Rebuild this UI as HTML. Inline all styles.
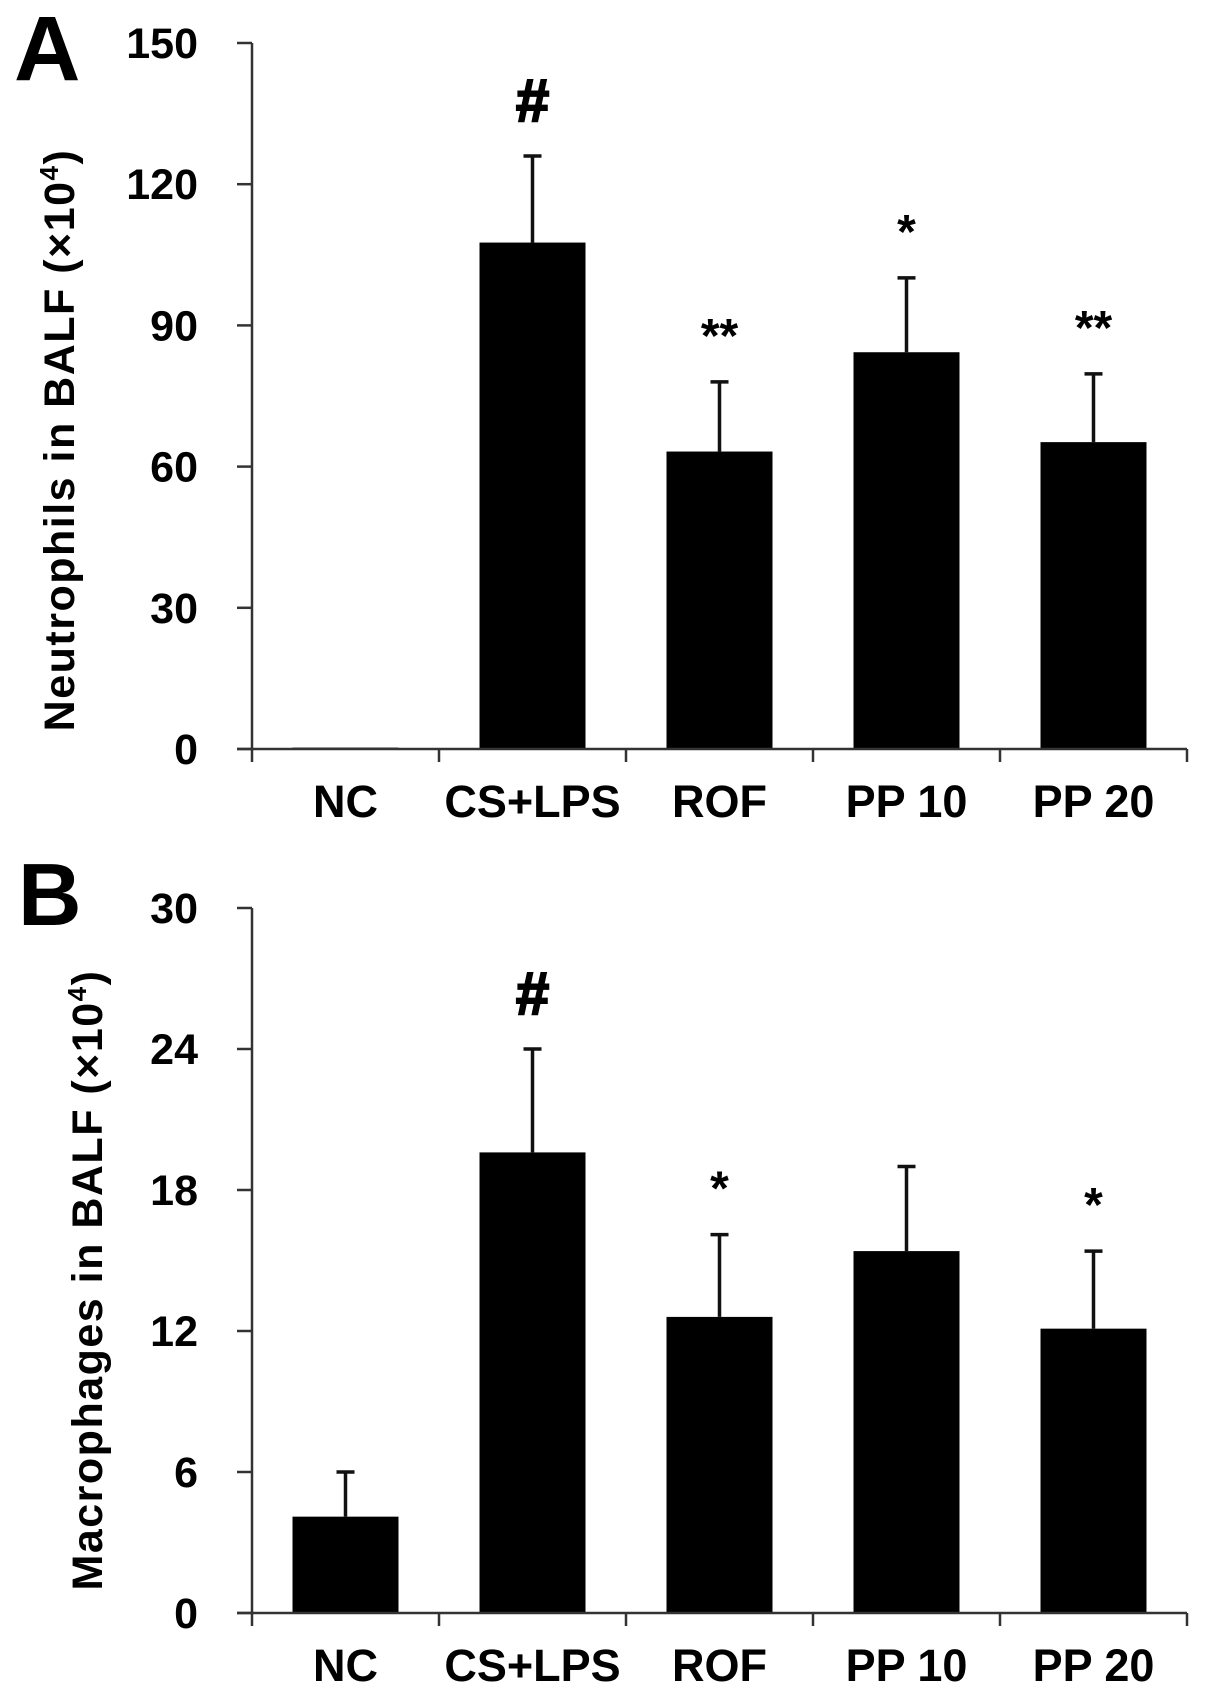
<!DOCTYPE html>
<html><head><meta charset="utf-8"><style>
html,body{margin:0;padding:0;background:#fff;}
svg{display:block;font-family:"Liberation Sans",Arial,sans-serif;font-weight:bold;}
</style></head><body>
<svg id="fig" width="1205" height="1690" viewBox="0 0 1205 1690">
<text x="14" y="80" font-size="92">A</text>
<text x="18" y="925" font-size="88">B</text>
<text transform="translate(74,440) rotate(-90)" text-anchor="middle" font-size="43" letter-spacing="1.5">Neutrophils in BALF (×10<tspan font-size="26" dy="-16">4</tspan><tspan dy="16">)</tspan></text>
<text transform="translate(102,1280) rotate(-90)" text-anchor="middle" font-size="43" letter-spacing="1.5">Macrophages in BALF (×10<tspan font-size="26" dy="-16">4</tspan><tspan dy="16">)</tspan></text>
</svg>
<script>
const categories = ["NC","CS+LPS","ROF","PP 10","PP 20"];
const neutroValues = [0.3, 107.6, 63.2, 84.3, 65.2];
const neutroErrors = [0, 18.4, 14.8, 15.8, 14.5];
const neutroMarks = ["", "#", "**", "*", "**"];
const neutroTicks = [0, 30, 60, 90, 120, 150];
const macroValues = [4.1, 19.6, 12.6, 15.4, 12.1];
const macroErrors = [1.9, 4.4, 3.5, 3.6, 3.3];
const macroMarks = ["", "#", "*", "", "*"];
const macroTicks = [0, 6, 12, 18, 24, 30];

const NS = "http://www.w3.org/2000/svg";
const svg = document.getElementById("fig");
function mk(tag, attrs, parent) {
  const e = document.createElementNS(NS, tag);
  for (const k in attrs) e.setAttribute(k, attrs[k]);
  (parent || svg).appendChild(e);
  return e;
}
function panel(key, yTop, yBase, maxV, values, errors, marks, ticks) {
  const axisX = 252, catW = 187, barW = 106;
  const g = mk("g", {});
  
  
  const yS = v => yBase - (v / maxV) * (yBase - yTop);
  const xC = i => axisX + catW * (i + 0.5);
  values.forEach((v, i) => {
    const r = mk("rect", {x: xC(i) - barW / 2, y: yS(v), width: barW, height: yBase - yS(v), fill: "#000"}, g);
    
    
    if (errors[i] > 0) {
      const et = yS(v + errors[i]);
      const l = mk("line", {x1: xC(i), x2: xC(i), y1: yS(v), y2: et, stroke: "#111", "stroke-width": 3.5}, g);
      
      
      const c = mk("line", {x1: xC(i) - 9, x2: xC(i) + 9, y1: et, y2: et, stroke: "#111", "stroke-width": 3.5}, g);
      
      
    }
    if (marks[i]) {
      const top = yS(v + errors[i]);
      const isHash = marks[i] === "#";
      const t = mk("text", {x: xC(i), y: isHash ? top - 35 : top - 30, "text-anchor": "middle", "font-size": isHash ? 60 : 48, stroke: isHash ? "#000" : "none", "stroke-width": isHash ? 2 : 0}, g);
      t.textContent = marks[i];
      
      
    }
  });
  const ya = mk("line", {x1: axisX, x2: axisX, y1: yTop, y2: yBase + 13, stroke: "#333", "stroke-width": 2.5}, g);
  
  
  const xa = mk("line", {x1: axisX - 15, x2: axisX + catW * categories.length, y1: yBase, y2: yBase, stroke: "#333", "stroke-width": 2.5}, g);
  
  
  ticks.forEach(t => {
    const y = yS(t);
    const tk = mk("line", {x1: axisX - 15, x2: axisX, y1: y, y2: y, stroke: "#333", "stroke-width": 2.5}, g);
    
    
    const lb = mk("text", {x: 198, y: y + 15, "text-anchor": "end", "font-size": 43}, g);
    lb.textContent = t;
    
    
  });
  categories.forEach((c, i) => {
    const x = axisX + catW * (i + 1);
    const tk = mk("line", {x1: x, x2: x, y1: yBase, y2: yBase + 13, stroke: "#333", "stroke-width": 2.5}, g);
    
    
    const lb = mk("text", {x: xC(i), y: yBase + 68, "text-anchor": "middle", "font-size": 45}, g);
    lb.textContent = c;
    
    
  });
}
panel("neutrophils", 43, 749, 150, neutroValues, neutroErrors, neutroMarks, neutroTicks);
panel("macrophages", 908, 1613, 30, macroValues, macroErrors, macroMarks, macroTicks);
</script>
</body></html>
